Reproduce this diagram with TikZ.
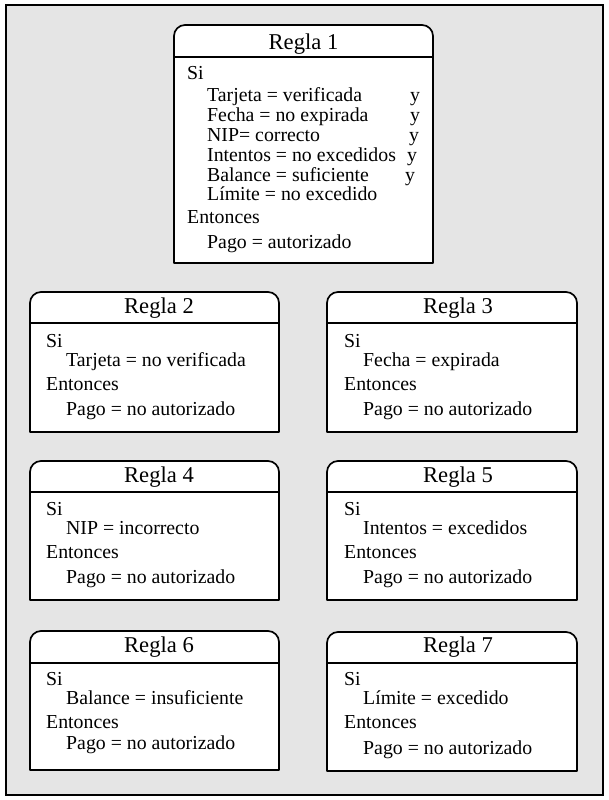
\documentclass[tikz,border=0pt]{standalone}
\usepackage{fontspec}
\setmainfont{Liberation Serif}
\newcommand\rulebox[5]{%
  \draw[boxline,fill=white] (#1,#5) -- (#1,#3+11) arc(180:90:11pt) -- (#2-11,#3) arc(90:0:11pt) -- (#2,#5) -- cycle;
  \draw[boxline] (#1,#4) -- (#2,#4);
}
\tikzset{
  boxline/.style={line width=1.7pt,line join=round},
  head/.style={font=\fontsize{22.6}{23}\selectfont,inner sep=0pt,anchor=base},
  txt/.style={font=\fontsize{19.8}{20}\selectfont,inner sep=0pt,anchor=base west},
}
\begin{document}
\begin{tikzpicture}[x=1pt,y=-1pt]
\useasboundingbox (0,0) rectangle (608,800);
\fill[gray!20] (6,5) rectangle (603,795);
\draw[line width=1.6pt] (6,5) rectangle (603,795);
% Regla 1
\rulebox{174}{433}{25}{57}{263}
\node[head] (h1) at (303.5,49) {Regla 1};
\node[txt] (r1a) at (187,80) {Si};
\node[txt] (r1b) at (207,101) {Tarjeta = verificada};
\node[txt] (r1c) at (207,121) {Fecha = no expirada};
\node[txt] (r1d) at (207,141) {NIP= correcto};
\node[txt] (r1e) at (207,161) {Intentos = no excedidos};
\node[txt] (r1f) at (207,181) {Balance = suficiente};
\node[txt] (r1g) at (207,200) {Límite = no excedido};
\node[txt] (r1h) at (187,223) {Entonces};
\node[txt] (r1i) at (207,248) {Pago = autorizado};
\node[txt] (y1) at (410,101) {y};
\node[txt] (y2) at (410,121) {y};
\node[txt] (y3) at (409,141) {y};
\node[txt] (y4) at (407,161) {y};
\node[txt] (y5) at (405,181) {y};
% Regla 2
\rulebox{30}{279}{292}{323}{432}
\node[head] (h2) at (159,313) {Regla 2};
\node[txt] (r2a) at (46,347) {Si};
\node[txt] (r2b) at (66,366) {Tarjeta = no verificada};
\node[txt] (r2c) at (46,390) {Entonces};
\node[txt] (r2d) at (66,415) {Pago = no autorizado};
% Regla 3
\rulebox{327}{577}{292}{323}{432}
\node[head] (h3) at (458,313) {Regla 3};
\node[txt] (r3a) at (344,347) {Si};
\node[txt] (r3b) at (363,366) {Fecha = expirada};
\node[txt] (r3c) at (344,390) {Entonces};
\node[txt] (r3d) at (363,415) {Pago = no autorizado};
% Regla 4
\rulebox{30}{279}{461}{492}{600}
\node[head] (h4) at (159,482) {Regla 4};
\node[txt] (r4a) at (46,515) {Si};
\node[txt] (r4b) at (66,534) {NIP = incorrecto};
\node[txt] (r4c) at (46,558) {Entonces};
\node[txt] (r4d) at (66,583) {Pago = no autorizado};
% Regla 5
\rulebox{327}{577}{461}{492}{600}
\node[head] (h5) at (458,482) {Regla 5};
\node[txt] (r5a) at (344,515) {Si};
\node[txt] (r5b) at (363,534) {Intentos = excedidos};
\node[txt] (r5c) at (344,558) {Entonces};
\node[txt] (r5d) at (363,583) {Pago = no autorizado};
% Regla 6
\rulebox{30}{279}{631}{663}{770}
\node[head] (h6) at (159,652) {Regla 6};
\node[txt] (r6a) at (46,685) {Si};
\node[txt] (r6b) at (66,704) {Balance = insuficiente};
\node[txt] (r6c) at (46,728) {Entonces};
\node[txt] (r6d) at (66,749) {Pago = no autorizado};
% Regla 7
\rulebox{327}{577}{632}{663}{771}
\node[head] (h7) at (458,652) {Regla 7};
\node[txt] (r7a) at (344,685) {Si};
\node[txt] (r7b) at (363,704) {Límite = excedido};
\node[txt] (r7c) at (344,728) {Entonces};
\node[txt] (r7d) at (363,754) {Pago = no autorizado};
\end{tikzpicture}
\end{document}
